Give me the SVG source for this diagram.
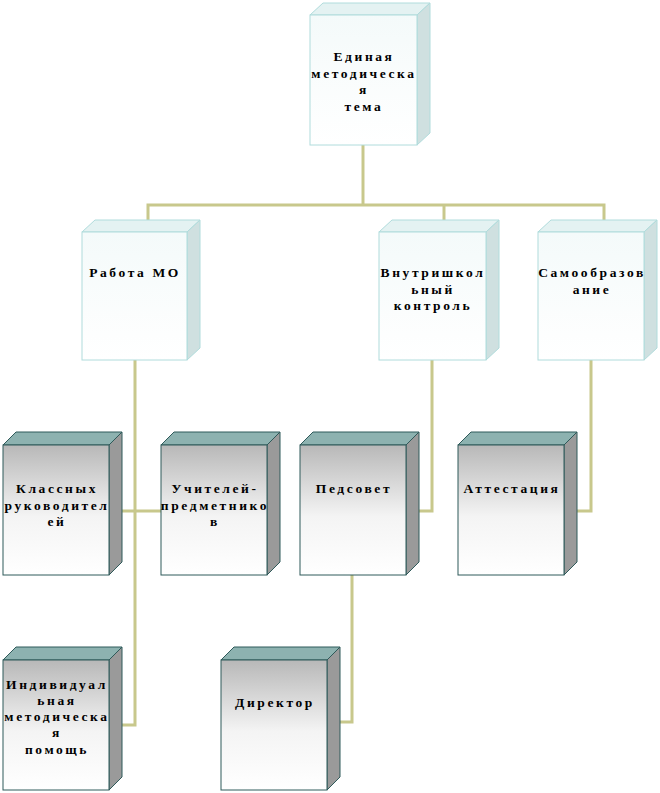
<svg xmlns="http://www.w3.org/2000/svg" width="660" height="793" viewBox="0 0 660 793">
<defs>
<linearGradient id="dg" x1="0" y1="0" x2="0" y2="1"><stop offset="0" stop-color="#b8b8b8"/><stop offset="0.55" stop-color="#f4f4f4"/><stop offset="1" stop-color="#ffffff"/></linearGradient>
<linearGradient id="lg" x1="0" y1="0" x2="0" y2="1"><stop offset="0" stop-color="#f4fafa"/><stop offset="1" stop-color="#ffffff"/></linearGradient>
</defs>
<style>
.lf{fill:url(#lg);stroke:#b0dcdc;stroke-width:1}
.lt{fill:#e4f2f2;stroke:#b0dcdc;stroke-width:1}
.ls{fill:#cfe0e0;stroke:#b0dcdc;stroke-width:1}
.df{fill:url(#dg);stroke:#2f5a5a;stroke-width:1}
.dt{fill:#8db2b0;stroke:#2f5a5a;stroke-width:1}
.ds{fill:#9a9a9a;stroke:#2f5a5a;stroke-width:1}
text{font-family:"Liberation Serif","DejaVu Serif",serif;font-weight:bold;font-size:13.5px;letter-spacing:2.6px;text-anchor:middle;fill:#000}
.c{fill:none;stroke:#c8c88c;stroke-width:3}
</style>
<g id="connectors">
<polyline class="c" points="363,145 363,205"/>
<polyline class="c" points="148,220 148,205 604,205 604,220"/>
<polyline class="c" points="444,205 444,220"/>
<polyline class="c" points="135,360 135,725 109,725"/>
<polyline class="c" points="109,511 161,511"/>
<polyline class="c" points="432,360 432,511 406,511"/>
<polyline class="c" points="591,360 591,511 564,511"/>
<polyline class="c" points="352,575 352,722 327,722"/>
</g>
<g id="n-top">
<polygon class="lt" points="310,15 323,3 430,3 417,15"/><polygon class="ls" points="417,15 430,3 430,133 417,145"/><rect class="lf" x="310" y="15" width="107" height="130"/>
<text x="364" y="61">Единая</text><text x="364" y="78">методическа</text><text x="364" y="94">я</text><text x="364" y="111">тема</text>
</g>
<g id="n-mo">
<polygon class="lt" points="82,232 95,220 200,220 187,232"/><polygon class="ls" points="187,232 200,220 200,348 187,360"/><rect class="lf" x="82" y="232" width="105" height="128"/>
<text x="135" y="277">Работа МО</text>
</g>
<g id="n-vk">
<polygon class="lt" points="379,232 392,220 499,220 486,232"/><polygon class="ls" points="486,232 499,220 499,348 486,360"/><rect class="lf" x="379" y="232" width="107" height="128"/>
<text x="433" y="277">Внутришкол</text><text x="433" y="294">ьный</text><text x="433" y="310">контроль</text>
</g>
<g id="n-so">
<polygon class="lt" points="538,232 551,220 657,220 644,232"/><polygon class="ls" points="644,232 657,220 657,348 644,360"/><rect class="lf" x="538" y="232" width="106" height="128"/>
<text x="592" y="277">Самообразов</text><text x="592" y="294">ание</text>
</g>
<g id="n-kl">
<polygon class="dt" points="3,445 16,432 122,432 109,445"/><polygon class="ds" points="109,445 122,432 122,562 109,575"/><rect class="df" x="3" y="445" width="106" height="130"/>
<text x="57" y="493">Классных</text><text x="57" y="510">руководител</text><text x="57" y="526">ей</text>
</g>
<g id="n-up">
<polygon class="dt" points="161,445 174,432 280,432 267,445"/><polygon class="ds" points="267,445 280,432 280,562 267,575"/><rect class="df" x="161" y="445" width="106" height="130"/>
<text x="215" y="493">Учителей-</text><text x="215" y="510">предметнико</text><text x="215" y="526">в</text>
</g>
<g id="n-ps">
<polygon class="dt" points="300,445 313,432 419,432 406,445"/><polygon class="ds" points="406,445 419,432 419,562 406,575"/><rect class="df" x="300" y="445" width="106" height="130"/>
<text x="354" y="493">Педсовет</text>
</g>
<g id="n-at">
<polygon class="dt" points="458,445 471,432 577,432 564,445"/><polygon class="ds" points="564,445 577,432 577,562 564,575"/><rect class="df" x="458" y="445" width="106" height="130"/>
<text x="512" y="493">Аттестация</text>
</g>
<g id="n-im">
<polygon class="dt" points="3,660 16,647 122,647 109,660"/><polygon class="ds" points="109,660 122,647 122,777 109,790"/><rect class="df" x="3" y="660" width="106" height="130"/>
<text x="57" y="689">Индивидуал</text><text x="57" y="705">ьная</text><text x="57" y="721">методическа</text><text x="57" y="737">я</text><text x="57" y="754">помощь</text>
</g>
<g id="n-dir">
<polygon class="dt" points="221,660 234,647 340,647 327,660"/><polygon class="ds" points="327,660 340,647 340,777 327,790"/><rect class="df" x="221" y="660" width="106" height="130"/>
<text x="275" y="707">Директор</text>
</g>
</svg>
